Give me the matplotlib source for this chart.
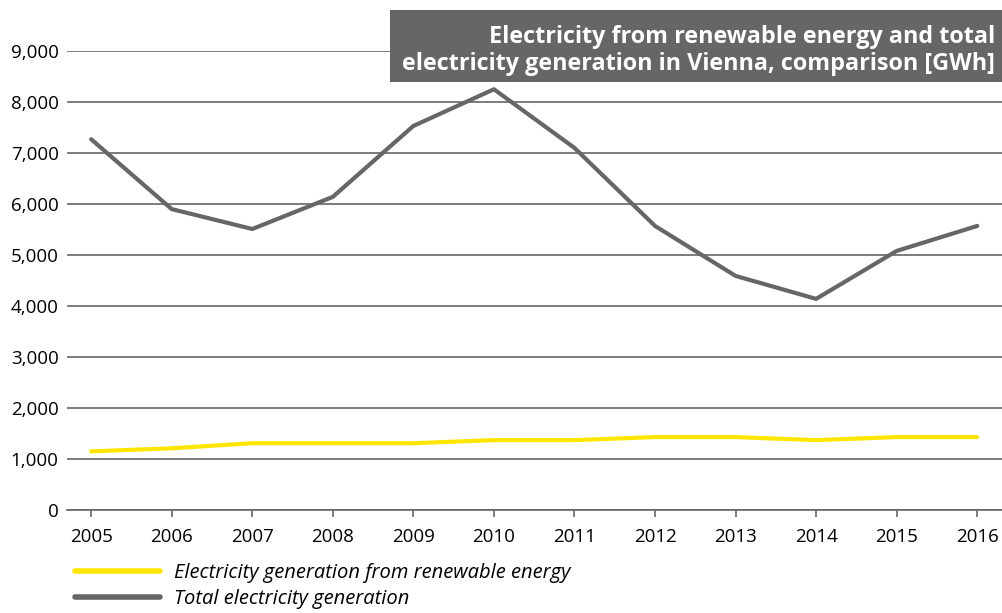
import matplotlib.pyplot as plt
from matplotlib.patches import Rectangle
from matplotlib.ticker import FuncFormatter

plt.rcParams['font.family'] = ['Open Sans', 'DejaVu Sans']

# data (GWh)
years = [2005, 2006, 2007, 2008, 2009, 2010, 2011, 2012, 2013, 2014, 2015, 2016]
renewable = [1150, 1210, 1310, 1310, 1310, 1370, 1370, 1430, 1430, 1370, 1430, 1430]
total = [7270, 5900, 5510, 6140, 7530, 8250, 7100, 5570, 4590, 4140, 5080, 5570]

grey = '#666666'
yellow = '#FFE600'

fig = plt.figure(figsize=(10.03, 6.13), dpi=100)
ax = fig.add_axes([0.0668, 0.168, 0.9332, 0.7488])

ax.plot(years, renewable, color=yellow, lw=3, solid_capstyle='round',
        label='Electricity generation from renewable energy')
ax.plot(years, total, color=grey, lw=3, solid_capstyle='round',
        label='Total electricity generation')

ax.set_xlim(2004.7, 2016.32)
ax.set_ylim(0, 9000)
ax.set_xticks(years)
ax.set_yticks(range(0, 9001, 1000))
ax.yaxis.set_major_formatter(FuncFormatter(lambda v, p: f'{int(v):,}'))
ax.grid(axis='y', color=grey, lw=1.2)
ax.set_axisbelow(True)
for s in ['top', 'right', 'left']:
    ax.spines[s].set_visible(False)
ax.spines['bottom'].set_color(grey)
ax.spines['bottom'].set_linewidth(1.2)
ax.tick_params(axis='y', length=0, pad=6, labelsize=13.5, labelcolor='black')
ax.tick_params(axis='x', length=5, width=1.2, color=grey, pad=8, labelsize=13.5)

# title box
fig.patches.append(Rectangle((0.389, 0.866), 0.611, 0.118, transform=fig.transFigure,
                             facecolor=grey, edgecolor='none', zorder=5))
fig.text(0.992, 0.918, 'Electricity from renewable energy and total\n'
         'electricity generation in Vienna, comparison [GWh]',
         ha='right', va='center', color='white', fontsize=16.8, fontweight='bold',
         linespacing=1.15, zorder=6)

fig.legend(loc='upper left', bbox_to_anchor=(0.075, 0.082), frameon=False,
           prop={'style': 'italic', 'size': 14.5}, handlelength=4.2,
           borderaxespad=0, labelspacing=0.3, handletextpad=0.72, borderpad=0)
for line in fig.legends[0].get_lines():
    line.set_linewidth(4)

fig.savefig('out.png', dpi=100)
